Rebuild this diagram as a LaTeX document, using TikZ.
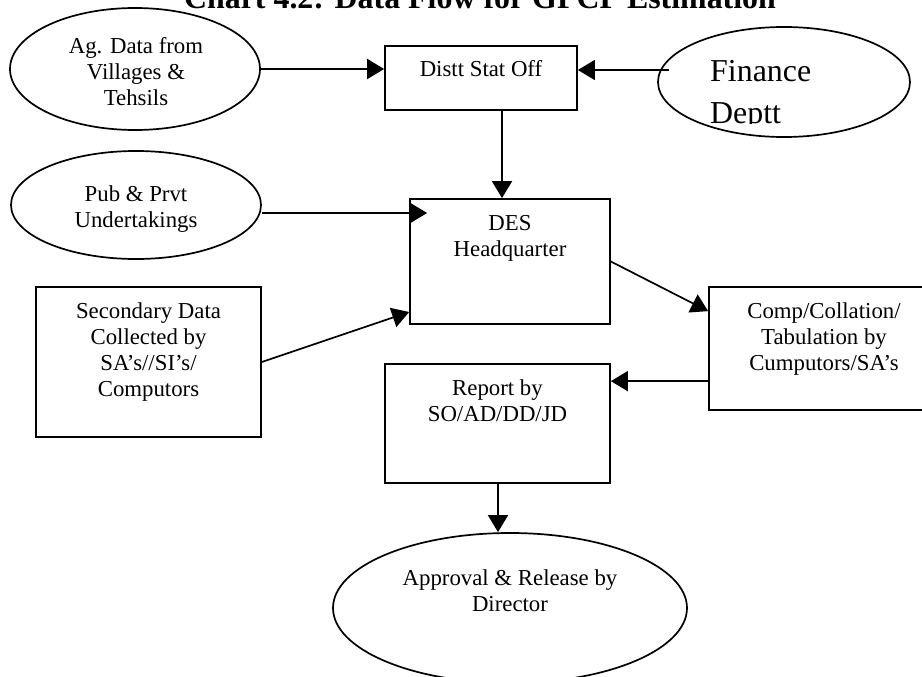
\documentclass[tikz,border=0pt]{standalone}
\usepackage{fontspec}
\setmainfont{Liberation Serif}
\usetikzlibrary{arrows.meta,shapes.geometric}

% Multi-line labels are placed by the baseline of their last line.
\tikzset{
  outline/.style={draw, line width=1.7pt, inner sep=0pt},
  oval/.style={outline, ellipse},
  txt/.style={anchor=base, align=center, inner sep=0pt,
              font=\fontsize{22.8}{26.2}\selectfont},
  bigtxt/.style={anchor=base west, align=left, inner sep=0pt,
              font=\fontsize{31.9}{41.5}\selectfont},
  flow/.style={line width=1.7pt, -{Triangle[length=17pt,width=20pt]}},
}

\begin{document}
\begin{tikzpicture}[x=1pt,y=-1pt]
  \useasboundingbox (0,0) rectangle (922,677);
  \clip (0,0) rectangle (922,677);

  % heading
  \node[anchor=base, inner sep=0pt, font=\bfseries\fontsize{31.9}{36}\selectfont]
    (title) at (480,9) {Chart 4.2: Data Flow for GPCP Estimation};

  % sources and offices
  \node[oval, minimum width=250pt, minimum height=122pt] (ag) at (135,69) {};
  \node[txt] (agt) at (136,106) {Ag. Data from\\Villages \&\\Tehsils};

  \node[outline, rectangle, minimum width=192pt, minimum height=64pt] (distt) at (481,78) {};
  \node[txt] (disttt) at (481,77) {Distt Stat Off};

  % the text frame of this oval cuts its second line at the baseline
  \node[oval, minimum width=252pt, minimum height=110pt] (fin) at (784,82) {};
  \begin{scope}
    \clip (fin.center) ellipse [x radius=126pt, y radius=55pt];
    \clip (650,20) rectangle (915,124);
    \node[bigtxt] (fint) at (710,123.5) {Finance\\Deptt};
  \end{scope}

  \node[oval, minimum width=250pt, minimum height=108pt] (pub) at (136,205) {};
  \node[txt] (pubt) at (136,227.2) {Pub \& Prvt\\Undertakings};

  \node[outline, rectangle, minimum width=200pt, minimum height=125pt] (des) at (510,261.5) {};
  \node[txt] (dest) at (510,256.2) {DES\\Headquarter};

  \node[outline, rectangle, minimum width=225pt, minimum height=150pt] (sec) at (148.5,362) {};
  \node[txt] (sect) at (148.5,396.6) {Secondary Data\\Collected by\\SA’s//SI’s/\\Computors};

  \node[outline, rectangle, minimum width=230pt, minimum height=123pt] (comp) at (824,348.5) {};
  \node[txt] (compt) at (824,370.4) {Comp/Collation/\\Tabulation by\\Cumputors/SA’s};

  \node[outline, rectangle, minimum width=225pt, minimum height=119pt] (rep) at (497.5,423.5) {};
  \node[txt] (rept) at (497.5,421.2) {Report by\\SO/AD/DD/JD};

  \node[oval, minimum width=354pt, minimum height=150pt] (app) at (510,608) {};
  \node[txt] (appt) at (510,611.2) {Approval \& Release by\\Director};

  % attachment points of the connectors
  \coordinate (agout) at (ag.east);
  \coordinate (finout) at ([shift={(12pt,12pt)}]fin.west);
  \coordinate (desin) at ([xshift=-8pt]des.north);
  \coordinate (pubout) at ([yshift=-8pt]pub.east);
  \coordinate (pubin) at ([xshift=18pt]des.west |- pubout);
  \coordinate (secin) at ([yshift=-50.5pt]des.west);
  \coordinate (compin) at ([yshift=-25pt]comp.north west);
  \coordinate (repin) at ([yshift=-18pt]rep.north east);
  \coordinate (appin) at ([xshift=0.5pt]rep.south |- app.north);
  \coordinate (repout) at ([xshift=0.5pt]rep.south);

  % data flow
  \draw[flow] (agout) -- (distt.west |- agout);
  \draw[flow] (finout) -- (distt.east |- finout);
  \draw[flow] (distt.south -| desin) -- (desin);
  \draw[flow] (pubout) -- (pubin);
  \draw[flow] (sec.east) -- (secin);
  \draw[flow] (des.east) -- (compin);
  \draw[flow] (comp.west |- repin) -- (repin);
  \draw[flow] (repout) -- (appin);
\end{tikzpicture}
\end{document}
